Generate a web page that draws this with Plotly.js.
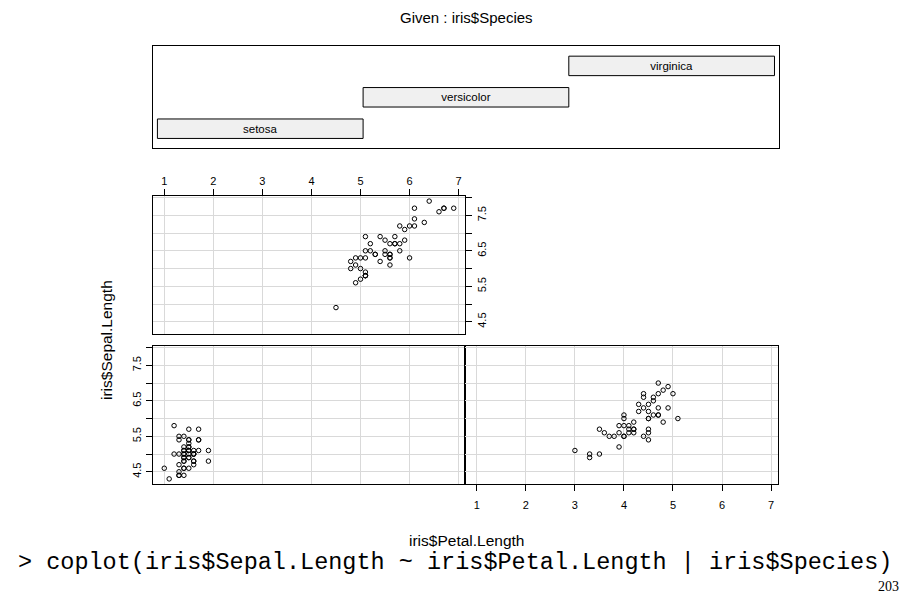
<!DOCTYPE html>
<html>
<head>
<meta charset="utf-8">
<script src="https://cdn.plot.ly/plotly-3.0.1.min.js"></script>
<style>
  html, body { margin: 0; padding: 0; background: #ffffff; }
  #chart { width: 907px; height: 593px; }
</style>
</head>
<body>
<div id="chart"></div>
<script>
// Conditioning levels (given variable)
const species = ['setosa', 'versicolor', 'virginica'];

// Petal.Length / Sepal.Length for each species
const setosaPetal = [1.4,1.4,1.3,1.5,1.4,1.7,1.4,1.5,1.4,1.5,1.5,1.6,1.4,1.1,1.2,1.5,1.3,1.4,1.7,1.5,1.7,1.5,1.0,1.7,1.9,1.6,1.6,1.5,1.4,1.6,1.6,1.5,1.5,1.4,1.5,1.2,1.3,1.4,1.3,1.5,1.3,1.3,1.3,1.6,1.9,1.4,1.6,1.4,1.5,1.4];
const setosaSepal = [5.1,4.9,4.7,4.6,5.0,5.4,4.6,5.0,4.4,4.9,5.4,4.8,4.8,4.3,5.8,5.7,5.4,5.1,5.7,5.1,5.4,5.1,4.6,5.1,4.8,5.0,5.0,5.2,5.2,4.7,4.8,5.4,5.2,5.5,4.9,5.0,5.5,4.9,4.4,5.1,5.0,4.5,4.4,5.0,5.1,4.8,5.1,4.6,5.3,5.0];

const versicolorPetal = [4.7,4.5,4.9,4.0,4.6,4.5,4.7,3.3,4.6,3.9,3.5,4.2,4.0,4.7,3.6,4.4,4.5,4.1,4.5,3.9,4.8,4.0,4.9,4.7,4.3,4.4,4.8,5.0,4.5,3.5,3.8,3.7,3.9,5.1,4.5,4.5,4.7,4.4,4.1,4.0,4.4,4.6,4.0,3.3,4.2,4.2,4.2,4.3,3.0,4.1];
const versicolorSepal = [7.0,6.4,6.9,5.5,6.5,5.7,6.3,4.9,6.6,5.2,5.0,5.9,6.0,6.1,5.6,6.7,5.6,5.8,6.2,5.6,5.9,6.1,6.3,6.1,6.4,6.6,6.8,6.7,6.0,5.7,5.5,5.5,5.8,6.0,5.4,6.0,6.7,6.3,5.6,5.5,5.5,6.1,5.8,5.0,5.6,5.7,5.7,6.2,5.1,5.7];

const virginicaPetal = [6.0,5.1,5.9,5.6,5.8,6.6,4.5,6.3,5.8,6.1,5.1,5.3,5.5,5.0,5.1,5.3,5.5,6.7,6.9,5.0,5.7,4.9,6.7,4.9,5.7,6.0,4.8,4.9,5.6,5.8,6.1,6.4,5.6,5.1,5.6,6.1,5.6,5.5,4.8,5.4,5.6,5.1,5.1,5.9,5.7,5.2,5.0,5.2,5.4,5.1];
const virginicaSepal = [6.3,5.8,7.1,6.3,6.5,7.6,4.9,7.3,6.7,7.2,6.5,6.4,6.8,5.7,5.8,6.4,6.5,7.7,7.7,6.0,6.9,5.6,7.7,6.3,6.7,7.2,6.2,6.1,6.4,7.2,7.4,7.9,6.4,6.3,6.1,7.7,6.3,6.4,6.0,6.9,6.7,6.9,5.8,6.8,6.7,6.7,6.3,6.5,6.2,5.9];

// Axis ticks
const xTickVals = [1, 2, 3, 4, 5, 6, 7];
const xTickText = ['1', '2', '3', '4', '5', '6', '7'];
const yTickVals = [4.5, 5.0, 5.5, 6.0, 6.5, 7.0, 7.5, 8.0];
const yTickText = ['4.5', '', '5.5', '', '6.5', '', '7.5', ''];

// Page geometry helpers (pixel -> paper fraction)
const W = 907, H = 593;
const fx = p => p / W;
const fy = p => 1 - p / H;

const sans = 'Liberation Sans, Arial, Helvetica, sans-serif';
const mono = '"Courier New", "Nimbus Mono PS", "Nimbus Mono L", FreeMono, "Liberation Mono", monospace';
const xRange = [0.764, 7.136];
const yRange = [4.156, 8.044];

const panelLeft = [152.7, 465.3], panelRight = [465.3, 777.7];
const rowTop = [196, 334], rowBottom = [346, 484];

const marker = { symbol: 'circle-open', size: 4.5, color: '#000000', line: { width: 1, color: '#000000' } };

const traces = [
  { type: 'scatter', mode: 'markers', x: setosaPetal, y: setosaSepal, xaxis: 'x', yaxis: 'y', marker: marker, hoverinfo: 'skip' },
  { type: 'scatter', mode: 'markers', x: versicolorPetal, y: versicolorSepal, xaxis: 'x2', yaxis: 'y2', marker: marker, hoverinfo: 'skip' },
  { type: 'scatter', mode: 'markers', x: virginicaPetal, y: virginicaSepal, xaxis: 'x3', yaxis: 'y3', marker: marker, hoverinfo: 'skip' },
  // Given-variable strip: one interval per level
  {
    type: 'bar', orientation: 'h',
    y: species.map((s, i) => i + 1),
    x: species.map(() => 1),
    base: species.map((s, i) => i + 0.5),
    width: 0.62,
    text: species,
    textposition: 'inside',
    insidetextanchor: 'middle',
    textangle: 0,
    constraintext: 'none',
    textfont: { family: sans, size: 11.5, color: '#000000' },
    marker: { color: '#f0f0f0', line: { color: '#000000', width: 1 } },
    xaxis: 'x4', yaxis: 'y4', hoverinfo: 'skip'
  }
];

const gridColor = '#d9d9d9';
const tickFont = { family: sans, size: 11, color: '#000000' };

function panelX(domainPx, anchor, opts) {
  return Object.assign({
    domain: [fx(domainPx[0]), fx(domainPx[1])], anchor: anchor, range: xRange,
    tickmode: 'array', tickvals: xTickVals, ticktext: xTickText,
    showgrid: true, gridcolor: gridColor, gridwidth: 1, zeroline: false,
    showline: true, mirror: true, linecolor: '#000000', linewidth: 1,
    ticks: '', showticklabels: false, tickfont: tickFont, fixedrange: true
  }, opts || {});
}
function panelY(domainPx, anchor, opts) {
  return Object.assign({
    domain: [fy(domainPx[1]), fy(domainPx[0])], anchor: anchor, range: yRange,
    tickmode: 'array', tickvals: yTickVals, ticktext: yTickText,
    showgrid: true, gridcolor: gridColor, gridwidth: 1, zeroline: false,
    showline: true, mirror: true, linecolor: '#000000', linewidth: 1,
    ticks: '', showticklabels: false, tickfont: tickFont, tickangle: -90, fixedrange: true
  }, opts || {});
}

const layout = {
  width: W, height: H,
  margin: { l: 0, r: 0, t: 0, b: 0 },
  paper_bgcolor: '#ffffff', plot_bgcolor: 'rgba(0,0,0,0)',
  showlegend: false,
  bargap: 0,
  // bottom-left: setosa
  xaxis: panelX(panelLeft, 'y'),
  yaxis: panelY(rowBottom, 'x', { side: 'left', ticks: 'outside', ticklen: 6, tickcolor: '#000000', showticklabels: true }),
  // bottom-right: versicolor
  xaxis2: panelX(panelRight, 'y2', { side: 'bottom', ticks: 'outside', ticklen: 6, tickcolor: '#000000', showticklabels: true, ticklabelstandoff: 5 }),
  yaxis2: panelY(rowBottom, 'x2'),
  // top-left: virginica
  xaxis3: panelX(panelLeft, 'y3', { side: 'top', ticks: 'outside', ticklen: 6, tickcolor: '#000000', showticklabels: true }),
  yaxis3: panelY(rowTop, 'x3', { side: 'right', ticks: 'outside', ticklen: 6, tickcolor: '#000000', showticklabels: true }),
  // strip of the given variable
  xaxis4: {
    domain: [fx(153.3), fx(778.6)], anchor: 'y4', range: [0.48, 3.52],
    showgrid: false, zeroline: false, showticklabels: false, ticks: '',
    showline: true, mirror: true, linecolor: '#000000', linewidth: 1, fixedrange: true
  },
  yaxis4: {
    domain: [fy(148.3), fy(45.7)], anchor: 'x4', range: [0.376, 3.643],
    showgrid: false, zeroline: false, showticklabels: false, ticks: '',
    showline: true, mirror: true, linecolor: '#000000', linewidth: 1, fixedrange: true
  },
  annotations: [
    { text: 'Given : iris$Species', xref: 'paper', yref: 'paper', x: fx(466), y: fy(17),
      xanchor: 'center', yanchor: 'middle', showarrow: false,
      font: { family: sans, size: 15, color: '#000000' } },
    { text: 'iris$Petal.Length', xref: 'paper', yref: 'paper', x: fx(466), y: fy(540),
      xanchor: 'center', yanchor: 'middle', showarrow: false,
      font: { family: sans, size: 15.5, color: '#000000' } },
    { text: 'iris$Sepal.Length', xref: 'paper', yref: 'paper', x: fx(106), y: fy(340),
      xanchor: 'center', yanchor: 'middle', showarrow: false, textangle: -90,
      font: { family: sans, size: 15.5, color: '#000000' } },
    { text: '> coplot(iris$Sepal.Length ~ iris$Petal.Length | iris$Species)', xref: 'paper', yref: 'paper',
      x: fx(455), y: fy(562), xanchor: 'center', yanchor: 'middle', showarrow: false,
      font: { family: mono, size: 23.5, color: '#000000' } },
    { text: '203', xref: 'paper', yref: 'paper', x: fx(888), y: fy(586),
      xanchor: 'center', yanchor: 'middle', showarrow: false,
      font: { family: '"Liberation Serif", "Times New Roman", serif', size: 14, color: '#000000' } }
  ]
};

Plotly.newPlot('chart', traces, layout, { staticPlot: true, displayModeBar: false });
</script>
</body>
</html>
